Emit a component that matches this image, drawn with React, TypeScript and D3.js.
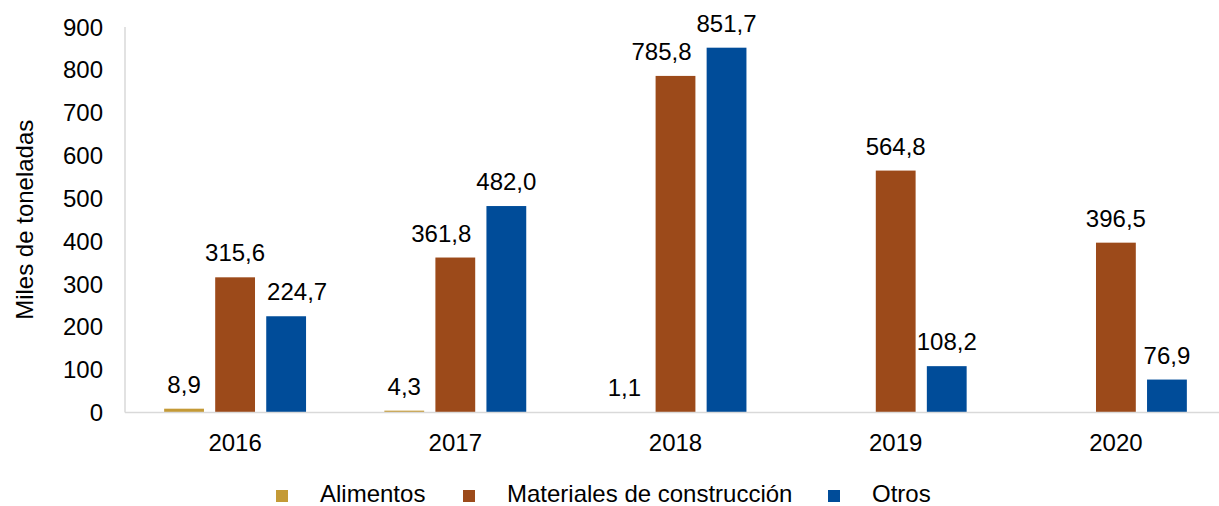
import React, { useEffect, useRef } from 'react';
import * as d3 from 'd3';

const years = ['2016', '2017', '2018', '2019', '2020'];
const seriesNames = ['Alimentos', 'Materiales de construcción', 'Otros'];
const alimentos = [8.9, 4.3, 1.1, null, null];
const materiales = [315.6, 361.8, 785.8, 564.8, 396.5];
const otros = [224.7, 482.0, 851.7, 108.2, 76.9];
const colors = ['#C49A36', '#9C4A1A', '#004C99'];
const yTicks = [0, 100, 200, 300, 400, 500, 600, 700, 800, 900];

const fmt = (v: number) => v.toFixed(1).replace('.', ',');

export default function App() {
  const ref = useRef<SVGSVGElement>(null);

  useEffect(() => {
    const width = 1219;
    const height = 506;
    const font = 'Arial, "Liberation Sans", sans-serif';
    const fs = '24px';
    const svg = d3.select(ref.current);
    svg.selectAll('*').remove();

    const x = d3.scaleBand().domain(years).range([125, 1226]).padding(0);
    const inner = d3.scaleBand().domain(seriesNames).range([-73.5, 73.5]).paddingInner(0.22).paddingOuter(0.05);
    const y = d3.scaleLinear().domain([0, 900]).range([412.5, 27]);

    const allSeries = [alimentos, materiales, otros];

    // y axis line
    svg.append('line')
      .attr('x1', x.range()[0]).attr('x2', x.range()[0])
      .attr('y1', y(900)).attr('y2', y(0))
      .attr('stroke', '#d9d9d9').attr('stroke-width', 1.5);

    // y tick labels
    svg.append('g').selectAll('text')
      .data(yTicks).enter().append('text')
      .attr('x', 103)
      .attr('y', d => y(d))
      .attr('dy', '0.36em')
      .attr('text-anchor', 'end')
      .style('font-family', font)
      .style('font-size', fs)
      .attr('fill', '#000')
      .text(d => d);

    // y title
    svg.append('text')
      .attr('transform', `translate(33, ${y(450)}) rotate(-90)`)
      .attr('text-anchor', 'middle')
      .style('font-family', font)
      .style('font-size', fs)
      .text('Miles de toneladas');

    // bars + value labels
    allSeries.forEach((vals, si) => {
      const g = svg.append('g');
      vals.forEach((v, i) => {
        if (v == null) return;
        const cx = x(years[i])! + x.bandwidth() / 2;
        const bx = cx + inner(seriesNames[si])!;
        g.append('rect')
          .attr('x', bx)
          .attr('y', y(v))
          .attr('width', inner.bandwidth())
          .attr('height', y(0) - y(v))
          .attr('fill', colors[si]);
        // nudge labels away from neighbouring bars / labels
        let dx = 0;
        if (si === 2) {
          const diff = y(v) - y(materiales[i]);
          if (diff > 0 && diff < 45) dx = 11;
        }
        if (si === 1 && otros[i] > v) dx = -14;
        g.append('text')
          .attr('x', bx + inner.bandwidth() / 2 + dx)
          .attr('y', y(v) - 16)
          .attr('text-anchor', 'middle')
          .style('font-family', font)
          .style('font-size', fs)
          .attr('fill', '#000')
          .text(fmt(v));
      });
    });

    // x axis baseline
    svg.append('line')
      .attr('x1', x.range()[0]).attr('x2', x.range()[1])
      .attr('y1', y(0)).attr('y2', y(0))
      .attr('stroke', '#d9d9d9').attr('stroke-width', 1.5);

    // x labels
    svg.append('g').selectAll('text')
      .data(years).enter().append('text')
      .attr('x', d => x(d)! + x.bandwidth() / 2)
      .attr('y', 451)
      .attr('text-anchor', 'middle')
      .style('font-family', font)
      .style('font-size', fs)
      .text(d => d);

    // legend
    const legendX = [276, 463, 828];
    const lg = svg.append('g');
    seriesNames.forEach((name, i) => {
      lg.append('rect')
        .attr('x', legendX[i]).attr('y', 490)
        .attr('width', 12).attr('height', 12)
        .attr('fill', colors[i]);
      lg.append('text')
        .attr('x', legendX[i] + 44)
        .attr('y', 502)
        .style('font-family', font)
        .style('font-size', fs)
        .text(name);
    });

    svg.attr('width', width).attr('height', height);
  }, []);

  return (
    <svg ref={ref} width={1219} height={506}
      style={{ position: 'absolute', left: 0, top: 0, background: 'white' }} />
  );
}
